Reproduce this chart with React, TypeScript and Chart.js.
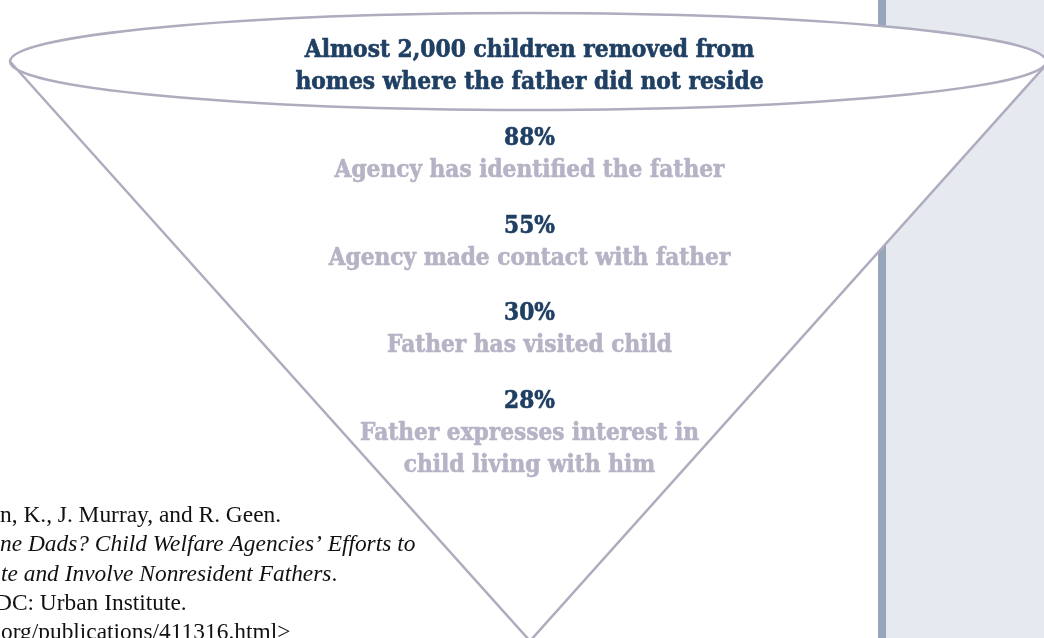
import React, { useEffect, useRef } from "react";
import { Chart, registerables } from "chart.js";

Chart.register(...registerables);

const TITLE_LINES = ["Almost 2,000 children removed from", "homes where the father did not reside"];
const PERCENTS = [88, 55, 30, 28];
const STEP_LABELS = [
  ["Agency has identified the father"],
  ["Agency made contact with father"],
  ["Father has visited child"],
  ["Father expresses interest in", "child living with him"],
];
const SOURCE_LINES: { text: string; italic: boolean }[][] = [
  [{ text: "n, K., J. Murray, and R. Geen.", italic: false }],
  [{ text: "ne Dads? Child Welfare Agencies\u2019 Efforts to", italic: true }],
  [{ text: "te and Involve Nonresident Fathers", italic: true }, { text: ".", italic: false }],
  [{ text: "DC: Urban Institute.", italic: false }],
  [{ text: "org/publications/411316.html>", italic: false }],
];
const SOURCE_OFFSETS = [0, 0, 1, -5, 1];

const NAVY = "#1f3f63";
const GRAY_TEXT = "#b5b3c5";
const LINE = "#aeacbe";
const BAR = "#97a6b8";
const PANEL = "#e6e9ef";
const SERIF_BOLD = "'DejaVu Serif Condensed', 'DejaVu Serif', serif";

function boldText(ctx: CanvasRenderingContext2D, t: string, x: number, y: number, color: string) {
  ctx.fillStyle = color;
  ctx.strokeStyle = color;
  ctx.lineWidth = 0.6;
  ctx.lineJoin = "round";
  ctx.fillText(t, x, y);
  ctx.strokeText(t, x, y);
}

const funnelPlugin = {
  id: "funnel",
  afterDraw(chart: any) {
    const { ctx } = chart;
    const xs = chart.scales.x;
    const ys = chart.scales.y;
    const X = (v: number) => xs.getPixelForValue(v);
    const Y = (v: number) => ys.getPixelForValue(v);

    ctx.save();
    // right panel
    ctx.fillStyle = PANEL;
    ctx.fillRect(X(886), Y(0), X(1044) - X(886), Y(638) - Y(0));
    ctx.fillStyle = BAR;
    ctx.fillRect(X(878), Y(0), X(886) - X(878), Y(638) - Y(0));

    // funnel
    const cx = X(528), cy = Y(61.5), rx = X(1046) - X(528), ry = Y(110) - Y(61.5);
    const leftTip = [X(10), Y(61.5)];
    const rightTip = [X(1045), Y(66)];
    const apex = [X(530), Y(641)];
    ctx.fillStyle = "#ffffff";
    ctx.beginPath();
    ctx.moveTo(leftTip[0], leftTip[1]);
    ctx.lineTo(apex[0], apex[1]);
    ctx.lineTo(rightTip[0], rightTip[1]);
    ctx.closePath();
    ctx.fill();
    ctx.beginPath();
    ctx.ellipse(cx, cy, rx, ry, 0, 0, Math.PI * 2);
    ctx.fill();

    ctx.strokeStyle = LINE;
    ctx.lineWidth = 2.5;
    ctx.beginPath();
    ctx.moveTo(leftTip[0], leftTip[1]);
    ctx.lineTo(apex[0], apex[1]);
    ctx.lineTo(rightTip[0], rightTip[1]);
    ctx.stroke();
    ctx.beginPath();
    ctx.ellipse(cx, cy, rx, ry, 0, 0, Math.PI * 2);
    ctx.stroke();

    // font fitting
    ctx.font = `bold 100px ${SERIF_BOLD}`;
    const w0 = ctx.measureText(STEP_LABELS[0][0]).width;
    const size = (100 * 390) / w0;
    ctx.textAlign = "center";
    ctx.textBaseline = "alphabetic";

    // title
    ctx.font = `bold ${size * 1.005}px ${SERIF_BOLD}`;
    TITLE_LINES.forEach((t, i) => boldText(ctx, t, X(529.5), Y(57 + i * 31.5), NAVY));

    // steps
    PERCENTS.forEach((p, i) => {
      const base = 145 + i * 87.7;
      ctx.font = `bold ${size}px ${SERIF_BOLD}`;
      boldText(ctx, `${p}%`, X(529.5), Y(base), NAVY);
      STEP_LABELS[i].forEach((l, j) => boldText(ctx, l, X(529.5), Y(base + 32 + j * 32), GRAY_TEXT));
    });

    // source
    ctx.textAlign = "left";
    ctx.fillStyle = "#111111";
    SOURCE_LINES.forEach((segs, i) => {
      let x = X(SOURCE_OFFSETS[i]);
      const y = Y(522 + i * 29.3);
      segs.forEach((s) => {
        ctx.font = `${s.italic ? "italic " : ""}23.4px 'Liberation Serif', 'Times New Roman', serif`;
        ctx.fillText(s.text, x, y);
        x += ctx.measureText(s.text).width;
      });
    });
    ctx.restore();
  },
};

export default function App() {
  const ref = useRef<HTMLCanvasElement>(null);
  useEffect(() => {
    document.body.style.margin = "0";
    const chart = new Chart(ref.current!, {
      type: "scatter",
      data: { datasets: [{ data: [], pointRadius: 0 }] },
      options: {
        animation: false,
        responsive: true,
        maintainAspectRatio: false,
        layout: { padding: 0 },
        plugins: { legend: { display: false }, tooltip: { enabled: false } },
        scales: {
          x: { type: "linear", min: 0, max: 1044, display: false },
          y: { type: "linear", min: 0, max: 638, reverse: true, display: false },
        },
      },
      plugins: [funnelPlugin],
    });
    return () => chart.destroy();
  }, []);
  return (
    <div style={{ width: 1044, height: 638, position: "relative", background: "#ffffff" }}>
      <canvas ref={ref} />
    </div>
  );
}
